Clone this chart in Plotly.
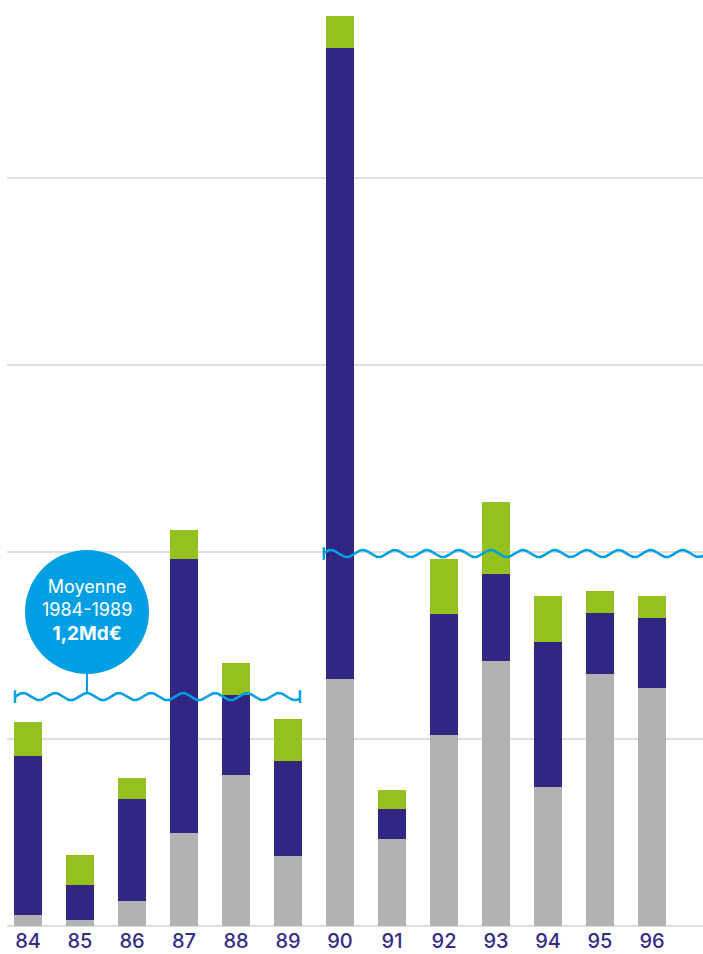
import numpy as np
import plotly.graph_objects as go

years = ["84", "85", "86", "87", "88", "89", "90", "91", "92", "93", "94", "95", "96"]
grey_vals = [0.057, 0.030, 0.132, 0.496, 0.806, 0.373, 1.319, 0.464, 1.020, 1.416, 0.742, 1.346, 1.271]
navy_vals = [0.850, 0.188, 0.546, 1.465, 0.428, 0.508, 3.375, 0.160, 0.647, 0.465, 0.775, 0.326, 0.374]
green_vals = [0.182, 0.160, 0.112, 0.155, 0.171, 0.224, 0.171, 0.102, 0.294, 0.385, 0.246, 0.118, 0.118]
avg_84_89 = 1.225
avg_90_96 = 1.99
grid_vals = [0, 1, 2, 3, 4]

GREY = "#b2b2b2"
NAVY = "#312783"
GREEN = "#95c11f"
BLUE = "#009fe3"
LABEL = "#352c85"

xs = list(range(len(years)))
fig = go.Figure()
for vals, col in [(grey_vals, GREY), (navy_vals, NAVY), (green_vals, GREEN)]:
    fig.add_trace(go.Bar(x=xs, y=vals, marker=dict(color=col, line=dict(width=0)),
                         width=0.54, hoverinfo="skip", showlegend=False))

# wavy average lines (decoration)
period = 0.615
amp = 0.019
def wave(xa, xb, level, crest):
    t = np.linspace(xa, xb, 400)
    return t, level + amp * np.cos(2 * np.pi * (t - crest) / period)

w1x, w1y = wave(-0.25, 5.23, avg_84_89, 1.135)
w2x, w2y = wave(5.69, 13.2, avg_90_96, 6.44)
for wx, wy in [(w1x, w1y), (w2x, w2y)]:
    fig.add_trace(go.Scatter(x=wx, y=wy, mode="lines", line=dict(color=BLUE, width=2.5),
                             hoverinfo="skip", showlegend=False, cliponaxis=False))

cap = 0.034
for cx, lvl in [(-0.25, avg_84_89), (5.23, avg_84_89), (5.69, avg_90_96)]:
    fig.add_shape(type="line", x0=cx, x1=cx, y0=lvl - cap, y1=lvl + cap,
                  line=dict(color=BLUE, width=2.5), layer="above")

# bubble
ccx, ccy = 1.135, 1.678
rx, ry = 62 / 52, 62 / 187
fig.add_shape(type="circle", x0=ccx - rx, x1=ccx + rx, y0=ccy - ry, y1=ccy + ry,
              fillcolor=BLUE, line=dict(width=0), layer="above")
fig.add_shape(type="line", x0=ccx, x1=ccx, y0=avg_84_89 + amp, y1=ccy - ry,
              line=dict(color=BLUE, width=2), layer="above")

fnt = "Inter"
fig.add_annotation(x=ccx, y=ccy + 0.01,
                   text="Moyenne<br>1984-1989<br><b><span style='font-size:19px'>1,2Md€</span></b>",
                   showarrow=False, align="center",
                   font=dict(family=fnt, size=18, color="white"))

fig.update_layout(
    width=703, height=954, margin=dict(l=7, r=0, t=0, b=27),
    barmode="stack", bargap=0.46,
    plot_bgcolor="white", paper_bgcolor="white",
    xaxis=dict(range=[-0.4038, 12.981], tickvals=xs, ticktext=years,
               showgrid=False, zeroline=False, showline=False, ticks="",
               ticklabelstandoff=0, automargin=False,
               tickfont=dict(family=fnt, size=20, color=LABEL, weight=500)),
    yaxis=dict(range=[-0.007, 4.950], tickvals=grid_vals, showticklabels=False,
               showgrid=True, gridcolor="#dedede", gridwidth=2,
               zeroline=True, zerolinecolor="#dedede", zerolinewidth=2,
               showline=False, ticks="", automargin=False),
)
fig.write_html("out.html")
